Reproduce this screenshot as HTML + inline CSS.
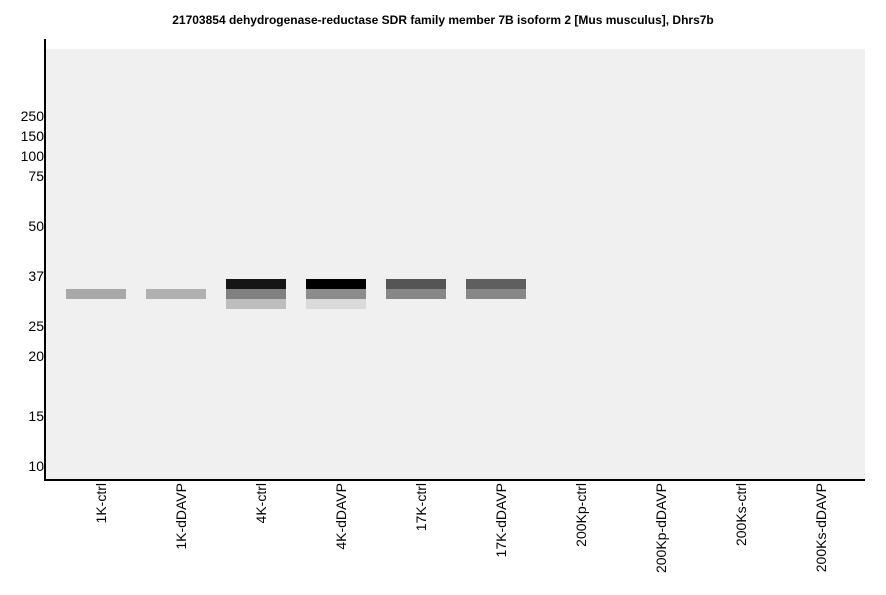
<!DOCTYPE html>
<html><head><meta charset="utf-8"><style>body{margin:0;background:#fff}svg{display:block}</style></head><body>
<svg width="886" height="595" xmlns="http://www.w3.org/2000/svg" font-family="Liberation Sans, sans-serif">
<rect x="0" y="0" width="886" height="595" fill="#fff"/>
<text x="443" y="24" text-anchor="middle" font-size="12" font-weight="bold">21703854 dehydrogenase-reductase SDR family member 7B isoform 2 [Mus musculus], Dhrs7b</text>
<rect x="46" y="49" width="819" height="430" fill="#eff0ef"/>
<rect x="44" y="39" width="2" height="442" fill="#000"/>
<rect x="44" y="479" width="821" height="2" fill="#000"/>
<g font-size="14" text-anchor="end" fill="#000">
<text x="44" y="121">250</text><text x="44" y="141">150</text><text x="44" y="161">100</text><text x="44" y="181">75</text>
<text x="44" y="231">50</text><text x="44" y="281">37</text><text x="44" y="331">25</text><text x="44" y="361">20</text>
<text x="44" y="421">15</text><text x="44" y="471">10</text>
</g>
<rect x="66" y="289" width="60" height="10" fill="#a8a8a8"/>
<rect x="146" y="289" width="60" height="10" fill="#b0b0b0"/>
<rect x="226" y="279" width="60" height="10" fill="#161616"/>
<rect x="226" y="289" width="60" height="10" fill="#808080"/>
<rect x="226" y="299" width="60" height="10" fill="#bdbdbd"/>
<rect x="306" y="279" width="60" height="10" fill="#000"/>
<rect x="306" y="289" width="60" height="10" fill="#8c8c8c"/>
<rect x="306" y="299" width="60" height="10" fill="#dadada"/>
<rect x="386" y="279" width="60" height="10" fill="#555555"/>
<rect x="386" y="289" width="60" height="10" fill="#878787"/>
<rect x="466" y="279" width="60" height="10" fill="#5f5f5f"/>
<rect x="466" y="289" width="60" height="10" fill="#888888"/>
<g font-size="14" text-anchor="end" fill="#000">
<text transform="translate(106,483) rotate(-90)">1K-ctrl</text>
<text transform="translate(186,483) rotate(-90)">1K-dDAVP</text>
<text transform="translate(266,483) rotate(-90)">4K-ctrl</text>
<text transform="translate(346,483) rotate(-90)">4K-dDAVP</text>
<text transform="translate(426,483) rotate(-90)">17K-ctrl</text>
<text transform="translate(506,483) rotate(-90)">17K-dDAVP</text>
<text transform="translate(586,483) rotate(-90)">200Kp-ctrl</text>
<text transform="translate(666,483) rotate(-90)">200Kp-dDAVP</text>
<text transform="translate(746,483) rotate(-90)">200Ks-ctrl</text>
<text transform="translate(826,483) rotate(-90)">200Ks-dDAVP</text>
</g>
</svg>
</body></html>
